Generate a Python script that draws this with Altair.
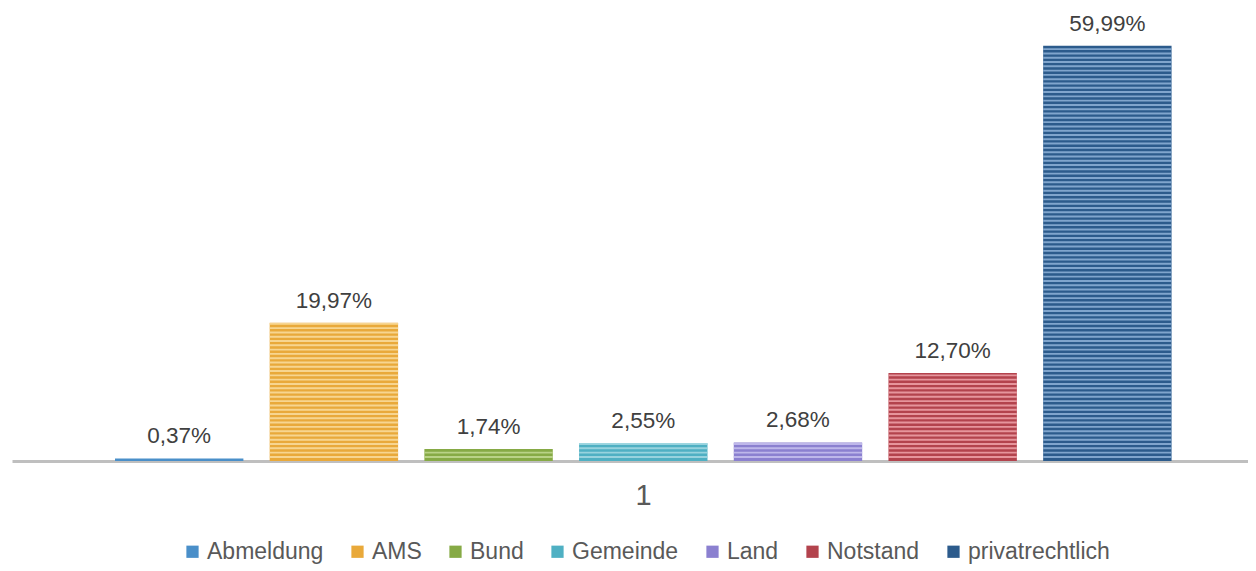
import altair as alt
import pandas as pd

series = ["Abmeldung", "AMS", "Bund", "Gemeinde", "Land", "Notstand", "privatrechtlich"]
values = [0.37, 19.97, 1.74, 2.55, 2.68, 12.70, 59.99]
base_colors = ["#4a8fc9", "#e9a93a", "#86aa45", "#4fb0c3", "#8b80d0", "#b3434d", "#2c5b8c"]
stripe_colors = ["#8fc0e6", "#f9dda0", "#c2d993", "#a4d9e3", "#c7c1ee", "#efa3aa", "#8fb3d8"]

df = pd.DataFrame({"series": series, "value": values, "stripe": stripe_colors})

x_enc = alt.X(
    "series:N",
    sort=series,
    scale=alt.Scale(paddingInner=0.17, paddingOuter=0.58, align=0.574),
    axis=alt.Axis(
        labels=False, ticks=False, title="1", titleFontSize=29, titleColor="#595959",
        titleFont="Liberation Sans", titleFontWeight="normal", titlePadding=20,
        titleX=631, domainColor="#BFBFBF", domainWidth=3,
    ),
)
y_scale = alt.Scale(domain=[0, 65])

bars = alt.Chart(df).mark_bar().encode(
    x=x_enc,
    y=alt.Y("value:Q", scale=y_scale, axis=None),
    color=alt.Color(
        "series:N",
        sort=series,
        scale=alt.Scale(domain=series, range=base_colors),
        legend=alt.Legend(
            title=None, orient="none", legendX=169, legendY=529, direction="horizontal",
            columns=7, symbolType="square", symbolSize=150, symbolStrokeWidth=0,
            labelFontSize=23, labelColor="#595959", labelFont="Liberation Sans",
            labelOffset=3, columnPadding=22, symbolOpacity=1,
        ),
    ),
)

stripes = alt.Chart(df).transform_calculate(
    s="sequence(0.45, datum.value - 0.1, 0.62)"
).transform_flatten(["s"]).transform_calculate(
    s2="datum.s + 0.28"
).mark_bar(opacity=0.85).encode(
    x=alt.X("series:N", sort=series),
    y=alt.Y("s:Q", scale=y_scale),
    y2="s2:Q",
    color=alt.Color("stripe:N", scale=None, legend=None),
)

labels = alt.Chart(df).transform_calculate(
    lab="replace(format(datum.value, '.2f'), '.', ',') + '%'"
).mark_text(
    baseline="alphabetic", dy=-15, fontSize=22.5, color="#404040", font="Liberation Sans"
).encode(
    x=alt.X("series:N", sort=series),
    y=alt.Y("value:Q", scale=y_scale),
    text="lab:N",
)

chart = alt.layer(bars, stripes, labels).properties(
    width=1236, height=450,
    padding={"left": 4, "top": 3, "right": 0, "bottom": 0},
).configure_view(stroke=None).resolve_scale(color="independent")

chart.save("out.html", embed_options={"renderer": "svg", "actions": False})
